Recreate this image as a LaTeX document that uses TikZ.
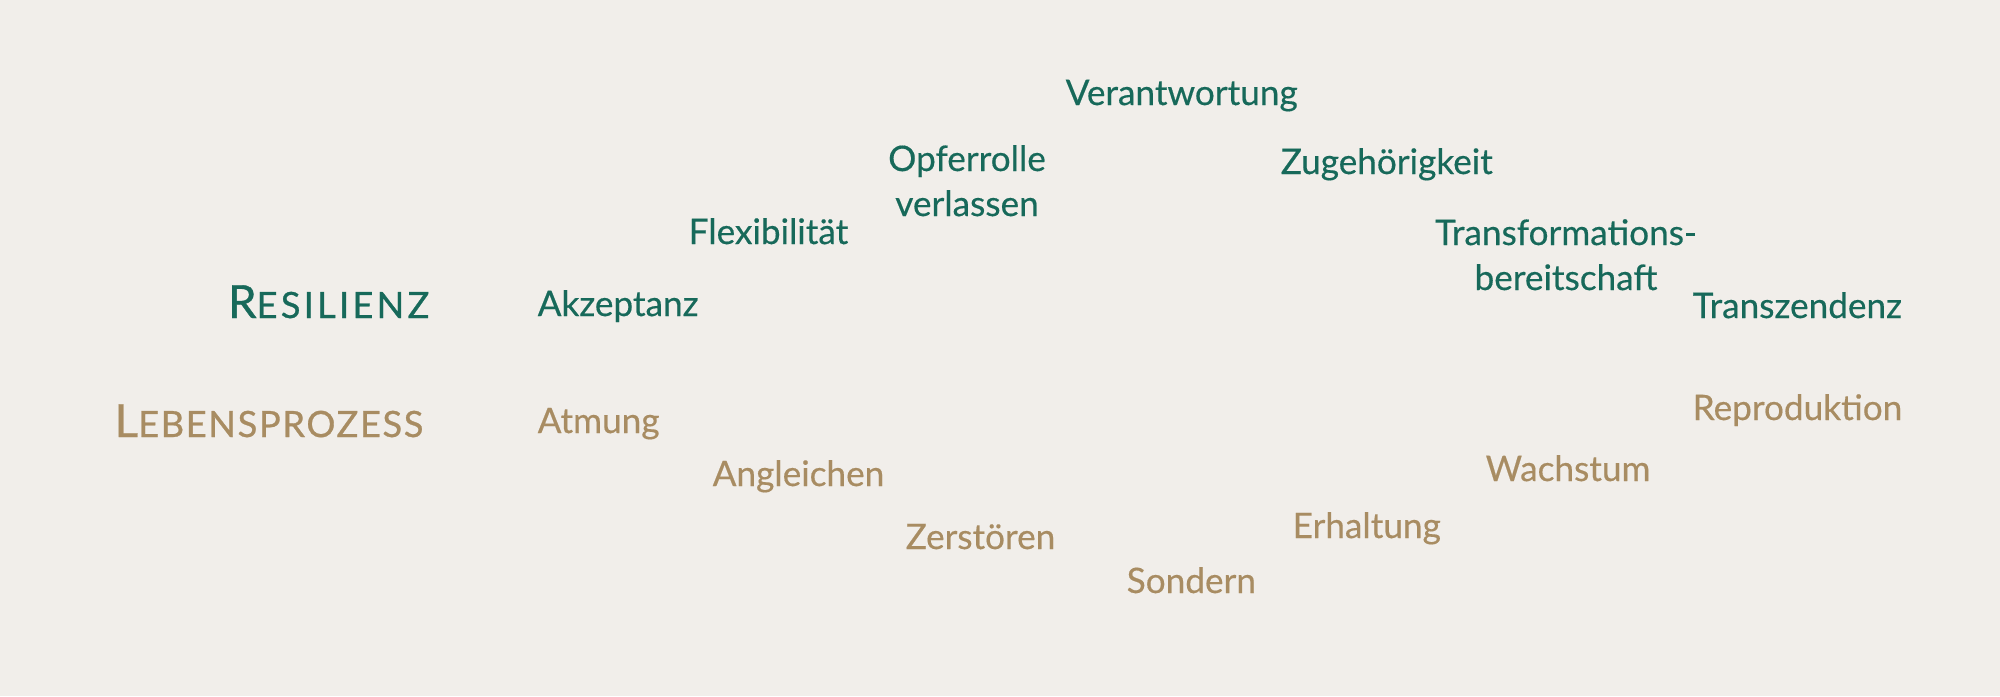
\documentclass[tikz,border=0pt]{standalone}
\usepackage{fontspec}
\setmainfont{Lato}[FakeBold=0.4]
\newfontfamily\capsfont[LetterSpace=9, FakeBold=0.8]{Lato}
\newfontfamily\capsfontnarrow[LetterSpace=4.5, FakeBold=0.8]{Lato}
\usetikzlibrary{positioning}
\definecolor{resgreen}{HTML}{17695A}
\definecolor{lebtan}{HTML}{A88C62}
\definecolor{paper}{HTML}{F1EEEA}
\tikzstyle{resilienz} = [text=resgreen, font=\fontsize{10}{12.8}\selectfont, anchor=base west, inner sep=0pt]
\tikzstyle{prozess} = [text=lebtan, font=\fontsize{10}{12.8}\selectfont, anchor=base west, inner sep=0pt]
\tikzstyle{twoline} = [align=center, anchor=base, inner sep=0pt]
\tikzstyle{heading} = [anchor=base east, inner sep=0pt]
\newcommand{\fakesc}[2]{{\fontsize{13}{14}\selectfont #1\fontsize{10.3}{11}\selectfont #2}}

\begin{document}
\begin{tikzpicture}[x=0.01cm, y=-0.01cm]
        \fill [paper] (0,0) rectangle (2000,696);

        % headings
        \node [heading, text=resgreen] (resilienz) at (430,318) {\capsfont\fakesc{R}{ESILIENZ}};
        \node [heading, text=lebtan] (lebensprozess) at (424,437) {\capsfontnarrow\fakesc{L}{EBENSPROZESS}};

        % resilience terms
        \node [resilienz] (akzeptanz) at (537,316) {Akzeptanz};
        \node [resilienz] (flexibilitaet) at (688,244) {Flexibilität};
        \node [resilienz, twoline] (opferrolle) at (967,216) {Opferrolle\\verlassen};
        \node [resilienz] (verantwortung) at (1065,105) {Verantwortung};
        \node [resilienz] (zugehoerigkeit) at (1280,174) {Zugehörigkeit};
        \node [resilienz, twoline] (transformation) at (1566,290) {Transformations-\\bereitschaft};
        \node [resilienz] (transzendenz) at (1692,318) {Transzendenz};

        % life processes
        \node [prozess] (atmung) at (537,433) {Atmung};
        \node [prozess] (angleichen) at (712,486) {Angleichen};
        \node [prozess] (zerstoeren) at (905,549) {Zerstören};
        \node [prozess] (sondern) at (1126,593) {Sondern};
        \node [prozess] (erhaltung) at (1292,538) {Erhaltung};
        \node [prozess] (wachstum) at (1485,481) {Wachstum};
        \node [prozess] (reproduktion) at (1692,420) {Reproduktion};
      \end{tikzpicture}
\end{document}
